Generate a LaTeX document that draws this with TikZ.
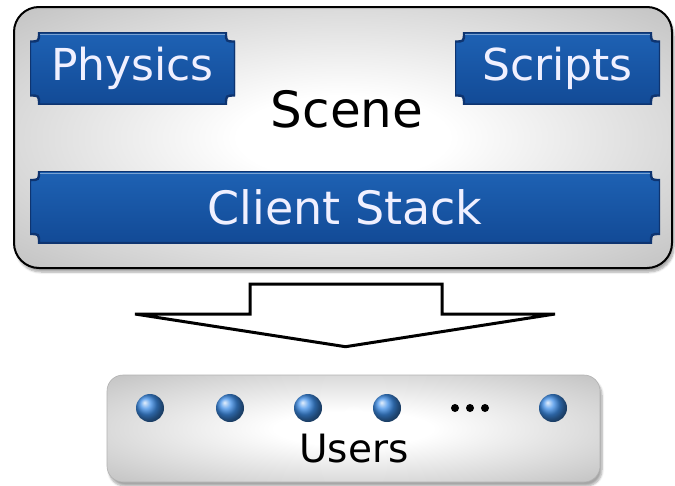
\documentclass[tikz,border=0pt]{standalone}
\usepackage{fontspec}
\setmainfont{DejaVu Sans}
\usetikzlibrary{calc, shadows.blur}
\definecolor{boxtop}{RGB}{30,98,180}
\definecolor{boxmid}{RGB}{24,86,166}
\definecolor{boxbot}{RGB}{18,74,150}
\definecolor{boxrim}{RGB}{14,52,112}
\definecolor{userball}{RGB}{62,142,232}
\newcommand{\bigfont}[1]{\fontsize{#1}{#1}\selectfont}
\pgfdeclareradialshading{panelfade}{\pgfpoint{0bp}{0bp}}{color(0bp)=(white); color(8bp)=(white); color(50bp)=(black!36); color(72bp)=(black!44)}

\tikzset{
	panel/.style = {shading = panelfade, inner sep = 0pt, blur shadow = {shadow xshift = 2pt, shadow yshift = -4pt, shadow opacity = 35, shadow blur steps = 6}},
	notchbox/.style = {inner sep = 0pt, minimum height = 72, text = white!94!blue, font = \bigfont{44},
		path picture = {
			\shade[top color = boxtop, middle color = boxmid, bottom color = boxbot, draw = boxrim, line width = 2.4pt]
				let \p1 = (path picture bounding box.north west), \p2 = (path picture bounding box.south east) in
				(\x1+9pt, \y1) -- (\x2-9pt, \y1) .. controls (\x2-9pt, \y1-9pt) .. (\x2, \y1-9pt)
				-- (\x2, \y2+9pt) .. controls (\x2-9pt, \y2+9pt) .. (\x2-9pt, \y2)
				-- (\x1+9pt, \y2) .. controls (\x1+9pt, \y2+9pt) .. (\x1, \y2+9pt)
				-- (\x1, \y1-9pt) .. controls (\x1+9pt, \y1-9pt) .. (\x1+9pt, \y1) -- cycle;
			\draw[boxtop!60!white, line width = 0.8pt]
				let \p1 = (path picture bounding box.north west), \p2 = (path picture bounding box.north east) in
				(\x1+10pt, \y1-2pt) -- (\x2-10pt, \y2-2pt);
		}},
	user/.style = {circle, inner sep = 0pt, minimum size = 28, shading = ball, ball color = userball},
	more/.style = {circle, inner sep = 0pt, minimum size = 8, fill = black},
	flowarrow/.style = {line width = 3pt, fill = white}
}

\begin{document}
\begin{tikzpicture}[x = 1pt, y = -1pt]
	\useasboundingbox (0, 0) rectangle (675, 485);
	\node[panel, draw = black, line width = 2pt, rounded corners = 25, minimum width = 658, minimum height = 261] (scene) at (343, 137.5) {};
	\node[panel, draw = black!30, line width = 0.6pt, rounded corners = 16, minimum width = 493, minimum height = 107] (users) at (353.5, 428.5) {};

	\node[notchbox, minimum width = 205] (physics) at (132.5, 68.5) {Physics};
	\node[notchbox, minimum width = 205] (scripts) at (557.5, 68.5) {Scripts};
	\node[notchbox, minimum width = 630, font = \bigfont{46}] (clientstack) at (345, 207) {Client Stack};
	\node[font = \bigfont{50}, anchor = base] (scenetitle) at (347, 127) {Scene};

	\coordinate (flowtop) at ($(scene.south) + (3, 15)$);
	\coordinate (flowtip) at ($(users.north) + (-8, -28)$);
	\draw[flowarrow] ($(flowtop) + (-96, 0)$) -- ($(flowtop) + (96, 0)$) -- ($(flowtop) + (96, 30)$) -- ($(flowtop) + (209, 30)$)
		-- (flowtip) -- ($(flowtop) + (-211, 30)$) -- ($(flowtop) + (-96, 30)$) -- cycle;

	\foreach \x [count = \i] in {150, 230, 308, 387, 553}
		\node[user] (user\i) at (\x, 408) {};
	\foreach \x [count = \i] in {455, 470, 485}
		\node[more] (more\i) at (\x, 408) {};
	\node[font = \bigfont{39}, anchor = base] (userstitle) at (354, 462) {Users};
\end{tikzpicture}
\end{document}
